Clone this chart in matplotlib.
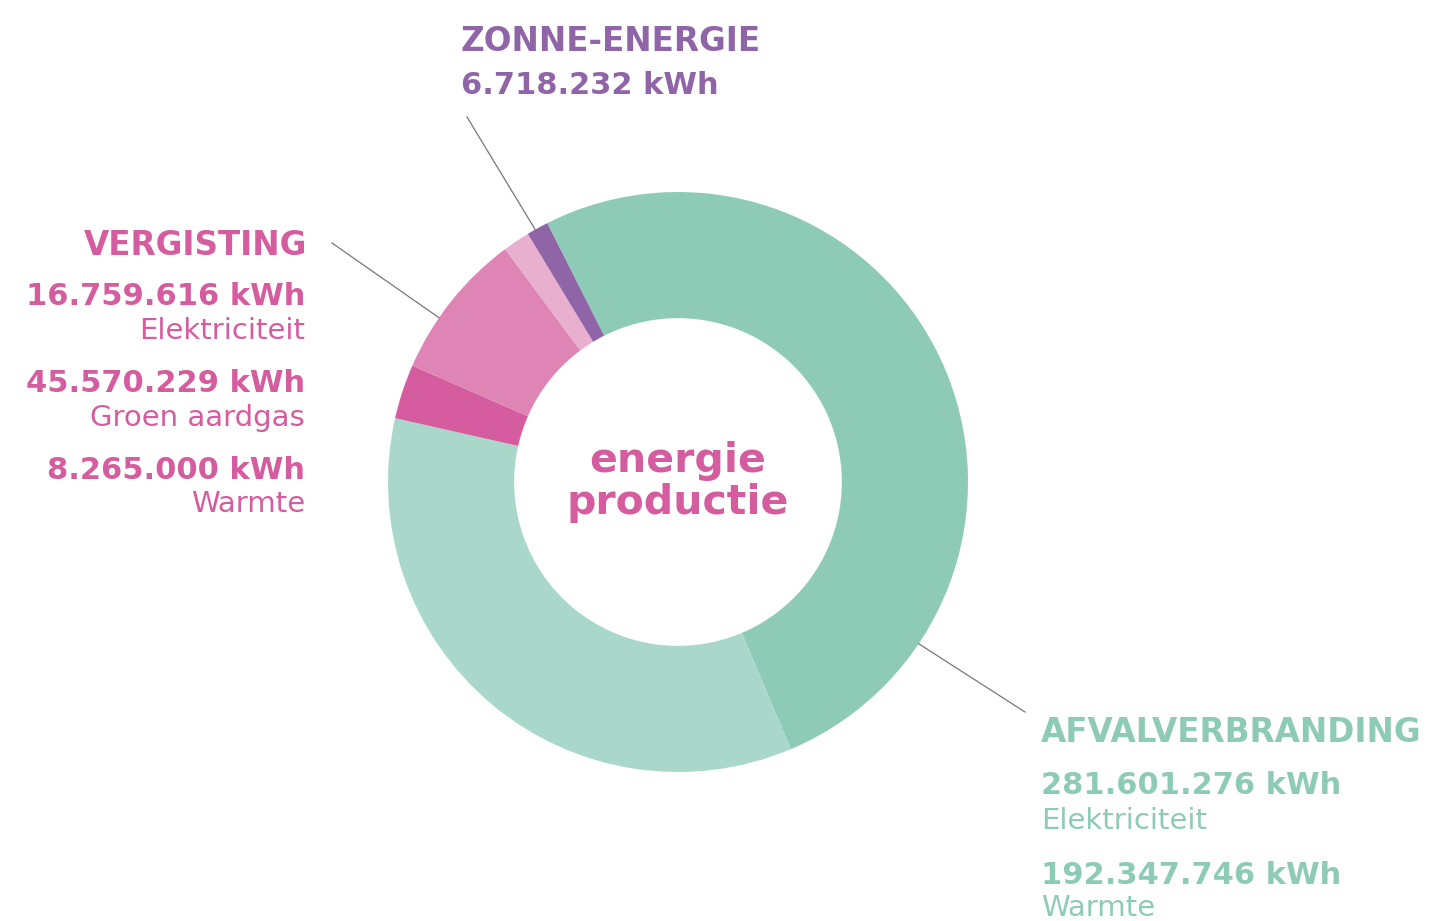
import numpy as np
import matplotlib.pyplot as plt

# energieproductie in kWh (clockwise from the top)
labels = ["Afval elektriciteit", "Afval warmte", "Vergisting elektriciteit",
          "Groen aardgas", "Vergisting warmte", "Zonne-energie"]
values = [281601276, 192347746, 16759616, 45570229, 8265000, 6718232]
colors = ["#8ecbb7", "#a9d8ca", "#d55c9f", "#de85b5", "#e9afcf", "#9065a8"]

GREEN = "#8ecbb7"
PINK = "#d55c9f"
PURPLE = "#9065a8"

W, H = 1455, 921
fig = plt.figure(figsize=(W / 100, H / 100), dpi=100)
ax = fig.add_axes([0, 0, 1, 1])

cx, cy, R = 678, H - 482, 290
ax.pie(values, colors=colors, startangle=116.8, counterclock=False,
       center=(cx, cy), radius=R, frame=True,
       wedgeprops=dict(width=R * 0.435, linewidth=0))
ax.set_xlim(0, W)
ax.set_ylim(0, H)
ax.set_aspect("equal")
ax.axis("off")

def y(py):
    return H - py

bold = dict(fontfamily="DejaVu Sans", fontweight="bold", va="baseline")
reg = dict(fontfamily="DejaVu Sans", va="baseline")
HEAD, NUM, SUB = 23.5, 22, 21

# center text
ax.text(cx, y(472), "energie", color=PINK, fontsize=29.5, ha="center", **bold)
ax.text(cx, y(514), "productie", color=PINK, fontsize=29.5, ha="center", **bold)

# zonne-energie
ax.text(461, y(51), "ZONNE-ENERGIE", color=PURPLE, fontsize=HEAD, ha="left", **bold)
ax.text(461, y(94), "6.718.232 kWh", color=PURPLE, fontsize=NUM, ha="left", **bold)

# vergisting
ax.text(307, y(255), "VERGISTING", color=PINK, fontsize=HEAD, ha="right", **bold)
ax.text(305, y(305), "16.759.616 kWh", color=PINK, fontsize=NUM, ha="right", **bold)
ax.text(305, y(339), "Elektriciteit", color=PINK, fontsize=SUB, ha="right", **reg)
ax.text(305, y(392), "45.570.229 kWh", color=PINK, fontsize=NUM, ha="right", **bold)
ax.text(305, y(426), "Groen aardgas", color=PINK, fontsize=SUB, ha="right", **reg)
ax.text(305, y(479), "8.265.000 kWh", color=PINK, fontsize=NUM, ha="right", **bold)
ax.text(305, y(512), "Warmte", color=PINK, fontsize=SUB, ha="right", **reg)

# afvalverbranding
ax.text(1041, y(742), "AFVALVERBRANDING", color=GREEN, fontsize=HEAD, ha="left", **bold)
ax.text(1041, y(794), "281.601.276 kWh", color=GREEN, fontsize=NUM, ha="left", **bold)
ax.text(1041, y(829), "Elektriciteit", color=GREEN, fontsize=SUB, ha="left", **reg)
ax.text(1041, y(884), "192.347.746 kWh", color=GREEN, fontsize=NUM, ha="left", **bold)
ax.text(1041, y(916), "Warmte", color=GREEN, fontsize=SUB, ha="left", **reg)

# leader lines
def edge(angle):
    a = np.radians(angle)
    return cx + R * np.cos(a), cy + R * np.sin(a)

for ang, end in [(119.5, (467, 117)), (145.5, (332, 243)), (-33.9, (1025, 712))]:
    x0, y0 = edge(ang)
    ax.plot([x0, end[0]], [y0, y(end[1])], color="#777777", linewidth=0.9)

fig.savefig("out.png", dpi=100, facecolor="white")
